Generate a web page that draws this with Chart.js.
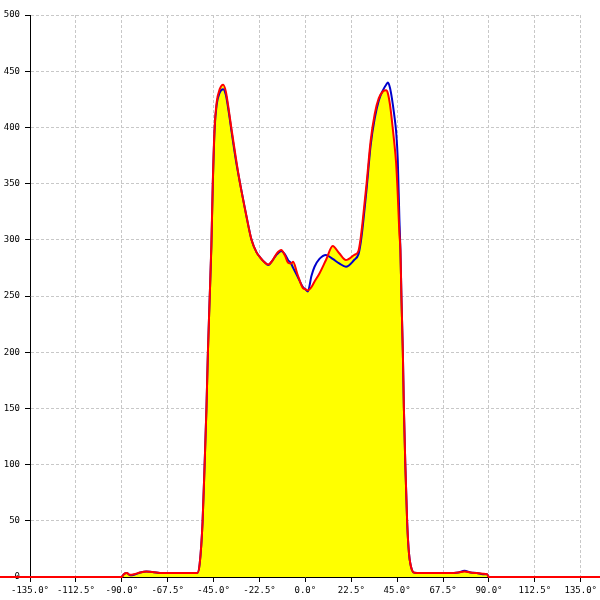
<!DOCTYPE html>
<html>
<head>
<meta charset="utf-8">
<script src="https://cdn.jsdelivr.net/npm/chart.js@4"></script>
<style>
  body { margin: 0; background: #fff; }
  #wrap { width: 600px; height: 600px; }
</style>
</head>
<body>
<div id="wrap"><canvas id="grafico" width="600" height="600"></canvas></div>
<script>
// angulos (graus) e intensidades
const angles = [-180, -90, -89, -87.5, -86, -84, -81, -78, -75, -70, -60, -53, -51.8, -50.4, -49.4, -48.5, -47.8, -46.9, -46.1, -45.4, -44.5, -43.5, -42, -40.3, -39, -37.5, -36.4, -34, -32, -29, -26.4, -24, -22, -20, -18.2, -16, -14, -11.8, -10, -8.5, -7, -6, -4, -1.2, 0, 1.2, 3, 4.5, 6.9, 10.1, 13.4, 16.6, 19.9, 23.9, 26, 27, 28, 30, 32, 34, 36, 38, 39.6, 40.5, 41.5, 42.5, 43.5, 44.5, 45.3, 46.1, 46.6, 47.1, 47.8, 48.3, 49, 49.9, 50.8, 52.3, 53.5, 60, 70, 75, 78, 81, 84, 87, 89, 90, 180];

const redVals = [0, 0, 2.5, 3.5, 2, 2.5, 4, 4.8, 4.5, 3.5, 3.5, 3.5, 12, 49, 100, 150, 199, 249, 295, 350, 400, 422, 434, 438, 432, 415, 401, 372, 350, 322, 300, 289, 284, 280, 278, 282, 288, 291, 286, 279.6, 279, 280.5, 270, 257, 256, 255, 258, 263, 270, 282, 294.5, 288, 282, 286.5, 290, 300, 315, 350, 388, 412, 426, 432, 433, 430, 420, 405, 388, 368, 340, 305, 291, 249, 199, 150, 100, 49, 21, 6, 3.8, 3.5, 3.5, 4, 5, 4, 3.5, 3, 2.5, 0, 0];

const blueVals = [null, 0, 2.5, 3.5, 1.5, 2, 4, 5, 4.5, 3.5, 3.5, 3.5, 12, 49, 100, 150, 199, 249, 293, 348, 398, 420, 431, 434, 429, 413, 399, 370, 350, 322, 300, 289, 284, 280, 277.6, 282, 287, 290, 287, 282, 279, 275, 268, 258, 256, 254, 268, 276, 283, 286.5, 283, 279, 276, 282, 287, 296, 310, 345, 384, 408, 424, 433, 438, 440, 435, 425, 412, 396, 371, 318, 291, 249, 199, 150, 100, 49, 21, 6, 3.8, 3.5, 3.5, 4, 5.5, 4, 3.5, 2.5, 2.5, 0, null];

const xTicks = { min: -135, max: 135, step: 22.5 };
const yTicks = { min: 0, max: 500, step: 50 };

const pontos = (vals) => angles.map((a, i) => ({ x: a, y: vals[i] }));

const fonte = { family: 'DejaVu Sans Mono', size: 9 };
const grade = { color: '#c8c8c8', tickColor: '#000', tickLength: 5, tickBorderDash: [], tickWidth: 1 };
const borda = { color: '#000', width: 1, dash: [3, 2] };

const config = {
    type: 'line',
    data: {
        datasets: [{
            label: 'vermelho',
            data: pontos(redVals),
            borderColor: '#ff0000',
            backgroundColor: '#ffff00',
            borderWidth: 2,
            fill: 'origin',
            pointRadius: 0,
            cubicInterpolationMode: 'monotone',
            clip: false,
            order: 0
        }, {
            label: 'azul',
            data: pontos(blueVals),
            borderColor: '#0000cc',
            borderWidth: 2,
            fill: false,
            pointRadius: 0,
            cubicInterpolationMode: 'monotone',
            order: 1
        }]
    },
    options: {
        responsive: false,
        animation: false,
        layout: { padding: { top: 15, right: 15, left: 0, bottom: 0 } },
        plugins: {
            legend: { display: false },
            tooltip: { enabled: false },
            filler: { drawTime: 'beforeDatasetsDraw' }
        },
        scales: {
            x: {
                type: 'linear',
                min: xTicks.min,
                max: xTicks.max,
                grid: grade,
                border: borda,
                afterFit: (s) => { s.height = 23; },
                ticks: {
                    stepSize: xTicks.step,
                    autoSkip: false,
                    maxRotation: 0,
                    padding: 3,
                    color: '#000',
                    font: fonte,
                    callback: (v) => v.toFixed(1) + '°'
                }
            },
            y: {
                min: yTicks.min,
                max: yTicks.max,
                grid: grade,
                border: borda,
                afterFit: (s) => { s.width = 30; },
                ticks: {
                    stepSize: yTicks.step,
                    padding: 5,
                    color: '#000',
                    font: fonte
                }
            }
        }
    }
};

const ctx = document.getElementById('grafico').getContext('2d');
new Chart(ctx, config);
</script>
</body>
</html>
